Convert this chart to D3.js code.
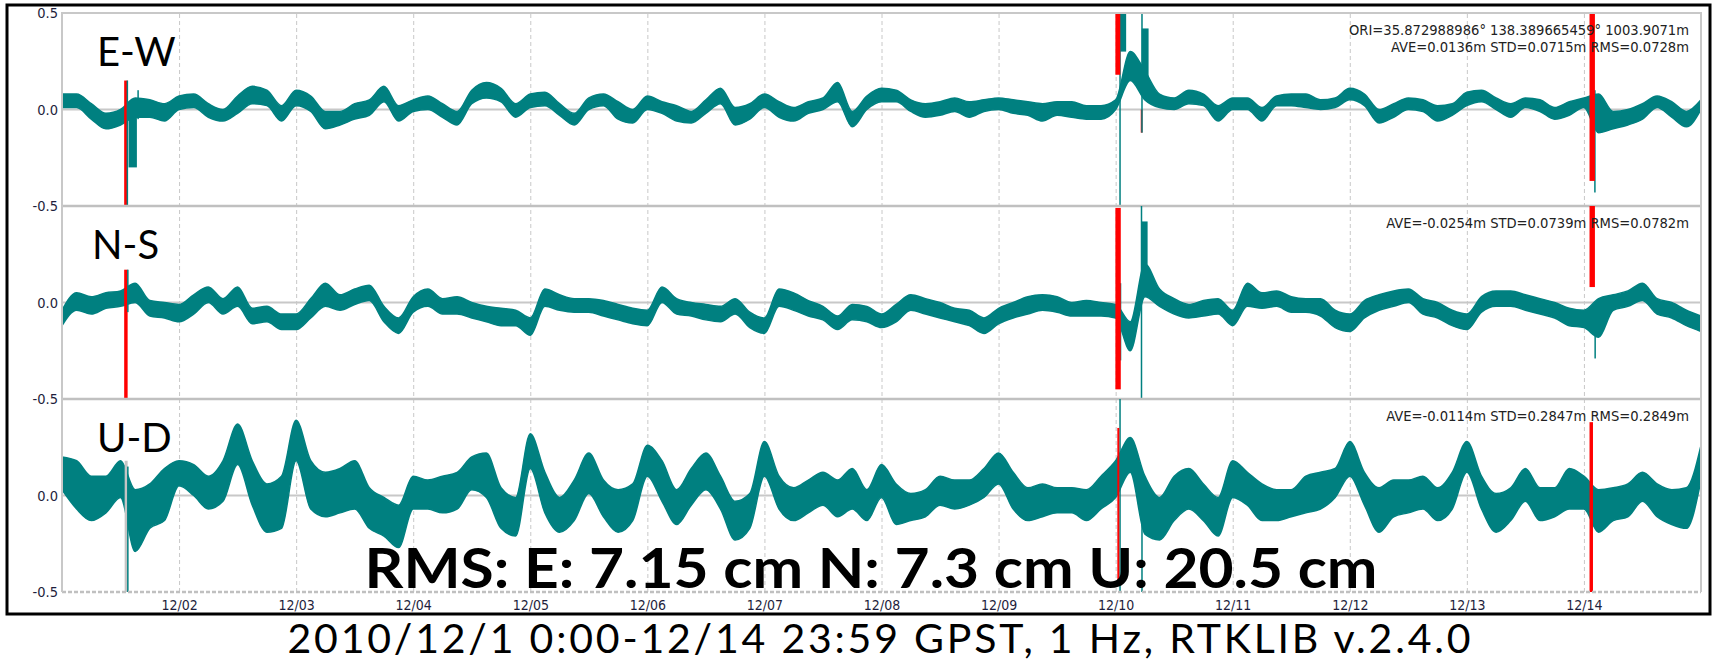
<!DOCTYPE html>
<html>
<head>
<meta charset="utf-8">
<script src="https://cdn.jsdelivr.net/npm/d3@7"></script>
<style>
  body { margin: 0; background: #fff; }
  svg { display: block; }
</style>
</head>
<body>
<svg width="1712" height="663"></svg>
<script>
// sample times: hours since 2010/12/01 00:00 GPST, one envelope value per 3 h bin
const hours = d3.range(0, 337, 3)

// E-W envelope (m), one row per day
const ewHi = [
  0.08, 0.08, 0.03, -0.02, 0.00, 0.06, 0.05, 0.03,
  0.07, 0.08, 0.03, 0.00, 0.07, 0.12, 0.10, 0.02,
  0.10, 0.07, -0.01, -0.01, 0.03, 0.05, 0.12, 0.02,
  0.05, 0.07, 0.03, -0.01, 0.10, 0.14, 0.11, 0.03,
  0.08, 0.09, 0.03, -0.02, 0.06, 0.08, 0.04, 0.00,
  0.07, 0.04, 0.02, -0.01, 0.05, 0.11, 0.01, 0.03,
  0.08, 0.04, 0.01, 0.04, 0.06, 0.14, -0.01, 0.07,
  0.11, 0.10, 0.05, 0.03, 0.04, 0.06, 0.04, 0.05,
  0.06, 0.05, 0.04, 0.03, 0.04, 0.04, 0.02, 0.02,
  0.05, 0.30, 0.20, 0.08, 0.06, 0.10, 0.08, 0.02,
  0.06, 0.06, 0.01, 0.07, 0.08, 0.08, 0.05, 0.06,
  0.11, 0.08, 0.00, 0.03, 0.06, 0.05, 0.02, 0.03,
  0.09, 0.10, 0.06, 0.03, 0.06, 0.05, 0.01, 0.04,
  0.06, 0.08, -0.01, 0.00, 0.03, 0.07, 0.04, -0.01,
  0.05
]
const ewLo = [
  0.01, 0.01, -0.05, -0.10, -0.08, -0.04, -0.04, -0.06,
  0.00, 0.01, -0.04, -0.06, -0.02, 0.03, 0.02, -0.06,
  0.02, -0.01, -0.10, -0.08, -0.05, -0.03, 0.04, -0.06,
  -0.01, 0.00, -0.04, -0.08, 0.03, 0.06, 0.04, -0.04,
  0.01, 0.02, -0.03, -0.08, 0.00, 0.02, -0.05, -0.07,
  0.00, -0.02, -0.06, -0.07, -0.02, 0.03, -0.08, -0.05,
  0.01, -0.04, -0.06, -0.02, 0.00, 0.04, -0.09, 0.00,
  0.04, 0.04, -0.01, -0.04, -0.03, -0.01, -0.04, -0.01,
  0.00, -0.02, -0.03, -0.06, -0.03, -0.04, -0.05, -0.05,
  0.00, 0.15, 0.05, 0.01, 0.00, 0.03, 0.02, -0.06,
  0.00, 0.00, -0.06, 0.02, 0.02, 0.01, 0.00, 0.01,
  0.05, 0.02, -0.07, -0.04, 0.00, -0.01, -0.06, -0.03,
  0.02, 0.04, 0.00, -0.04, 0.01, -0.01, -0.05, -0.03,
  0.01, -0.12, -0.10, -0.08, -0.05, 0.01, -0.04, -0.09,
  0.00
]

// N-S envelope (m)
const nsHi = [
  -0.04, 0.05, 0.03, 0.05, 0.06, 0.10, 0.01, 0.00,
  -0.01, 0.04, 0.08, 0.02, 0.08, -0.03, -0.02, -0.06,
  -0.06, 0.02, 0.10, 0.04, 0.07, 0.09, -0.02, -0.08,
  0.03, 0.07, 0.02, 0.03, 0.00, -0.02, -0.03, -0.04,
  -0.08, 0.07, 0.04, 0.02, 0.02, 0.01, -0.01, -0.03,
  -0.04, 0.08, 0.02, 0.00, -0.01, -0.02, 0.02, -0.05,
  -0.08, 0.07, 0.05, 0.01, -0.02, -0.07, -0.01, -0.02,
  -0.06, -0.01, 0.04, 0.02, 0.00, -0.03, -0.04, -0.08,
  -0.03, 0.00, 0.03, 0.04, 0.03, 0.00, 0.01, 0.00,
  -0.01, -0.10, 0.20, 0.07, 0.02, -0.01, 0.01, 0.02,
  -0.04, 0.10, 0.05, 0.06, 0.03, 0.02, 0.02, -0.04,
  -0.06, 0.01, 0.04, 0.06, 0.07, 0.02, 0.00, -0.04,
  -0.06, 0.03, 0.06, 0.06, 0.04, 0.02, 0.00, -0.03,
  -0.04, 0.02, 0.04, 0.06, 0.10, 0.02, 0.00, -0.04,
  -0.07
]
const nsLo = [
  -0.12, -0.04, -0.06, -0.03, -0.02, 0.00, -0.07, -0.08,
  -0.10, -0.06, 0.00, -0.06, -0.02, -0.11, -0.10, -0.14,
  -0.14, -0.08, -0.02, -0.04, -0.01, 0.01, -0.10, -0.16,
  -0.05, -0.02, -0.06, -0.06, -0.08, -0.10, -0.12, -0.12,
  -0.17, -0.02, -0.04, -0.05, -0.05, -0.07, -0.09, -0.11,
  -0.12, 0.00, -0.06, -0.07, -0.09, -0.10, -0.06, -0.13,
  -0.16, -0.02, -0.04, -0.07, -0.09, -0.14, -0.09, -0.10,
  -0.13, -0.10, -0.04, -0.06, -0.08, -0.10, -0.12, -0.16,
  -0.11, -0.08, -0.06, -0.04, -0.05, -0.07, -0.07, -0.07,
  -0.08, -0.25, 0.03, -0.02, -0.06, -0.08, -0.07, -0.06,
  -0.12, -0.02, -0.03, -0.02, -0.05, -0.05, -0.07, -0.13,
  -0.15, -0.08, -0.04, -0.02, 0.00, -0.06, -0.08, -0.12,
  -0.14, -0.05, -0.02, -0.02, -0.04, -0.06, -0.08, -0.12,
  -0.13, -0.18, -0.04, -0.02, 0.01, -0.06, -0.08, -0.12,
  -0.15
]

// U-D envelope (m)
const udHi = [
  0.20, 0.18, 0.10, 0.10, 0.18, 0.03, 0.06, 0.14,
  0.18, 0.16, 0.10, 0.18, 0.37, 0.18, 0.06, 0.10,
  0.39, 0.18, 0.12, 0.14, 0.18, 0.04, -0.01, -0.05,
  0.10, 0.08, 0.10, 0.12, 0.20, 0.22, 0.04, -0.01,
  0.32, 0.12, -0.01, 0.08, 0.22, 0.08, 0.03, 0.06,
  0.26, 0.18, 0.03, 0.14, 0.22, 0.10, -0.03, 0.01,
  0.28, 0.10, 0.04, 0.08, 0.12, 0.08, 0.14, 0.03,
  0.16, 0.06, 0.01, 0.03, 0.10, 0.08, 0.08, 0.14,
  0.22, 0.12, 0.04, 0.06, 0.04, 0.04, 0.03, 0.10,
  0.18, 0.30, 0.10, -0.01, 0.10, 0.14, 0.06, -0.01,
  0.18, 0.12, 0.06, 0.03, 0.03, 0.10, 0.12, 0.14,
  0.28, 0.12, 0.04, 0.08, 0.08, 0.10, 0.04, 0.12,
  0.28, 0.10, 0.01, 0.04, 0.14, 0.04, 0.04, 0.14,
  0.10, 0.03, 0.04, 0.06, 0.12, 0.06, 0.03, 0.04,
  0.26
]
const udLo = [
  0.03, -0.07, -0.13, -0.09, -0.01, -0.29, -0.17, -0.13,
  0.05, 0.00, -0.07, -0.03, 0.16, -0.05, -0.19, -0.17,
  0.18, -0.07, -0.11, -0.09, -0.07, -0.17, -0.21, -0.27,
  -0.07, -0.07, -0.09, -0.07, 0.03, -0.01, -0.17, -0.21,
  0.14, -0.09, -0.19, -0.13, 0.01, -0.11, -0.19, -0.13,
  0.10, -0.03, -0.15, -0.05, 0.03, -0.07, -0.23, -0.17,
  0.10, -0.07, -0.13, -0.09, -0.05, -0.11, -0.07, -0.13,
  -0.01, -0.15, -0.13, -0.11, -0.05, -0.07, -0.05, -0.01,
  0.06, -0.07, -0.13, -0.11, -0.09, -0.09, -0.13, -0.07,
  -0.01, 0.12, -0.20, -0.23, -0.13, -0.07, -0.13, -0.21,
  -0.01, -0.05, -0.13, -0.13, -0.11, -0.09, -0.07, -0.01,
  0.10, -0.05, -0.19, -0.11, -0.09, -0.07, -0.13, -0.07,
  0.12, -0.07, -0.19, -0.13, -0.03, -0.13, -0.11, -0.07,
  -0.07, -0.19, -0.13, -0.11, -0.03, -0.11, -0.15, -0.17,
  0.08
]

// short jumps and float/no-solution stretches: hours t0-t1, range lo-hi (m), quality
const ewEvents = [
  { t0: 12.9, t1: 13.3, lo: -0.5, hi: 0.15, q: 'float' },
  { t0: 13.4, t1: 13.4, lo: -0.5, hi: 0.15, q: 'fix' },
  { t0: 13.8, t1: 15.2, lo: -0.3, hi: -0.02, q: 'fix' },
  { t0: 15.6, t1: 15.6, lo: -0.05, hi: 0.1, q: 'fix' },
  { t0: 217.0, t1: 218.0, lo: 0.3, hi: 0.5, q: 'fix' },
  { t0: 216.9, t1: 216.9, lo: -0.5, hi: 0.5, q: 'fix' },
  { t0: 216.1, t1: 216.8, lo: 0.18, hi: 0.5, q: 'float' },
  { t0: 221.3, t1: 221.35, lo: -0.12, hi: 0.0, q: 'float' },
  { t0: 221.4, t1: 221.4, lo: -0.12, hi: 0.5, q: 'fix' },
  { t0: 221.5, t1: 222.6, lo: 0.15, hi: 0.42, q: 'fix' },
  { t0: 314.25, t1: 314.25, lo: -0.43, hi: 0.1, q: 'fix' },
  { t0: 313.3, t1: 314.1, lo: -0.37, hi: 0.5, q: 'float' }
]
const nsEvents = [
  { t0: 12.9, t1: 13.3, lo: -0.5, hi: 0.17, q: 'float' },
  { t0: 13.5, t1: 13.5, lo: -0.05, hi: 0.17, q: 'fix' },
  { t0: 217.0, t1: 217.0, lo: -0.3, hi: 0.1, q: 'fix' },
  { t0: 216.1, t1: 216.9, lo: -0.45, hi: 0.49, q: 'float' },
  { t0: 221.3, t1: 221.3, lo: -0.5, hi: 0.5, q: 'fix' },
  { t0: 221.4, t1: 222.4, lo: 0.12, hi: 0.42, q: 'fix' },
  { t0: 314.3, t1: 314.3, lo: -0.29, hi: 0.0, q: 'fix' },
  { t0: 313.3, t1: 314.1, lo: 0.08, hi: 0.5, q: 'float' }
]
const udEvents = [
  { t0: 13.0, t1: 13.3, lo: -0.5, hi: 0.18, q: 'gap' },
  { t0: 13.5, t1: 13.5, lo: -0.5, hi: 0.15, q: 'fix' },
  { t0: 216.9, t1: 216.9, lo: -0.5, hi: 0.5, q: 'fix' },
  { t0: 216.5, t1: 216.6, lo: -0.45, hi: 0.35, q: 'float' },
  { t0: 221.4, t1: 221.4, lo: -0.5, hi: 0.05, q: 'fix' },
  { t0: 313.3, t1: 313.7, lo: -0.5, hi: 0.38, q: 'float' }
]

const panelNames = ['E-W', 'N-S', 'U-D']
const statLines = [
  ['ORI=35.872988986\u00b0 138.389665459\u00b0 1003.9071m', 'AVE=0.0136m STD=0.0715m RMS=0.0728m'],
  ['AVE=-0.0254m STD=0.0739m RMS=0.0782m'],
  ['AVE=-0.0114m STD=0.2847m RMS=0.2849m']
]
const rmsText = 'RMS: E: 7.15 cm N: 7.3 cm U: 20.5 cm'
const caption = '2010/12/1 0:00-12/14 23:59 GPST, 1 Hz, RTKLIB v.2.4.0'

const panels = [
  { hi: ewHi, lo: ewLo, events: ewEvents },
  { hi: nsHi, lo: nsLo, events: nsEvents },
  { hi: udHi, lo: udLo, events: udEvents }
]

// layout
const svg = d3.select('svg')
const plotL = 62, plotR = 1701, plotT = 13, plotB = 592
const panelH = (plotB - plotT) / 3
const start = new Date(2010, 11, 1)
const toDate = (h) => new Date(start.getTime() + h * 3600e3)

const x = d3.scaleTime().domain([start, new Date(2010, 11, 15)]).range([plotL, plotR])
const color = d3.scaleOrdinal().domain(['fix', 'float', 'gap']).range(['#008080', '#ff0000', '#c4c4c4'])
const gridColor = '#c8c8c8'
const tickFont = '"DejaVu Sans Condensed", "DejaVu Sans", sans-serif'

// outer frame
svg.append('rect')
  .attr('x', 7).attr('y', 5).attr('width', 1703).attr('height', 609)
  .attr('fill', 'none').attr('stroke', '#000').attr('stroke-width', 3)

// day grid + date labels
const xAxis = d3.axisBottom(x)
  .tickValues(d3.timeDay.range(new Date(2010, 11, 2), new Date(2010, 11, 15)))
  .tickFormat(d3.timeFormat('%m/%d'))
  .tickSizeInner(-(plotB - plotT))
  .tickSizeOuter(0)
  .tickPadding(8)

const xg = svg.append('g').attr('transform', `translate(0,${plotB})`).call(xAxis)
xg.select('.domain').remove()
xg.selectAll('line').attr('stroke', gridColor).attr('stroke-dasharray', '4,3')
xg.selectAll('text')
  .attr('font-family', tickFont).attr('font-size', 14).attr('fill', '#1e1e3c')

panels.forEach((p, i) => {
  const y0 = plotT + i * panelH
  const y = d3.scaleLinear().domain([-0.5, 0.5]).range([y0 + panelH, y0])
  const g = svg.append('g')

  g.append('clipPath').attr('id', 'clip' + i)
    .append('rect').attr('x', plotL).attr('y', y0).attr('width', plotR - plotL).attr('height', panelH)

  // zero line
  g.append('line')
    .attr('x1', plotL).attr('x2', plotR).attr('y1', y(0)).attr('y2', y(0))
    .attr('stroke', gridColor).attr('stroke-width', 2)

  // y labels
  const yAxis = d3.axisLeft(y)
    .tickValues(i === 0 ? [0.5, 0, -0.5] : [0, -0.5])
    .tickFormat((d) => d.toFixed(1))
    .tickSize(0)
    .tickPadding(4)
  const yg = g.append('g').attr('transform', `translate(${plotL},0)`).call(yAxis)
  yg.select('.domain').remove()
  yg.selectAll('text')
    .attr('font-family', tickFont).attr('font-size', 14.5).attr('fill', '#1e1e3c')

  // noisy position band
  const pts = hours.map((h, k) => ({ t: toDate(h), hi: p.hi[k], lo: p.lo[k] }))
  const area = d3.area()
    .curve(d3.curveMonotoneX)
    .x((d) => x(d.t)).y0((d) => y(d.lo)).y1((d) => y(d.hi))
  const plot = g.append('g').attr('clip-path', `url(#clip${i})`)
  plot.append('path').datum(pts)
    .attr('d', area)
    .attr('fill', color('fix')).attr('stroke', color('fix')).attr('stroke-width', 1.5)
    .attr('stroke-linejoin', 'round')

  plot.selectAll('rect.ev').data(p.events).enter().append('rect')
    .attr('class', 'ev')
    .attr('x', (d) => x(toDate(d.t0)) - 0.75)
    .attr('width', (d) => Math.max(1.5, x(toDate(d.t1)) - x(toDate(d.t0)) + 1.5))
    .attr('y', (d) => y(d.hi))
    .attr('height', (d) => y(d.lo) - y(d.hi))
    .attr('fill', (d) => color(d.q))

  // panel name
  g.append('text')
    .attr('x', i === 1 ? 92 : 97).attr('y', y0 + 53)
    .attr('font-family', 'Lato, "Open Sans", sans-serif').attr('font-size', 40)
    .attr('fill', '#000')
    .text(panelNames[i])

  // statistics
  g.selectAll('text.stat').data(statLines[i]).enter().append('text')
    .attr('class', 'stat')
    .attr('x', 1689).attr('y', (d, k) => y0 + 22 + k * 17)
    .attr('text-anchor', 'end')
    .attr('font-family', tickFont).attr('font-size', 14.6).attr('fill', '#222')
    .text((d) => d)

  // panel separator
  g.append('line')
    .attr('x1', plotL).attr('x2', plotR).attr('y1', y(-0.5)).attr('y2', y(-0.5))
    .attr('stroke', '#c0c0c0').attr('stroke-width', 2.5)
    .attr('stroke-dasharray', i === 2 ? '4,2' : null)
})

// plot frame (left, top, right)
svg.append('path')
  .attr('d', `M${plotL},${plotB}V${plotT}H${plotR}V${plotB}`)
  .attr('fill', 'none').attr('stroke', gridColor).attr('stroke-width', 2)

// annotations
svg.append('text')
  .attr('x', 871).attr('y', 588)
  .attr('text-anchor', 'middle')
  .attr('font-family', 'Lato, "Open Sans", sans-serif').attr('font-weight', 'bold')
  .attr('font-size', 56).attr('fill', '#000')
  .attr('textLength', 1013).attr('lengthAdjust', 'spacingAndGlyphs')
  .text(rmsText)

svg.append('text')
  .attr('x', 879).attr('y', 653)
  .attr('text-anchor', 'middle')
  .attr('font-family', 'Lato, "Open Sans", sans-serif')
  .attr('font-size', 41).attr('fill', '#000')
  .attr('textLength', 1183).attr('lengthAdjust', 'spacing')
  .text(caption)
</script>
</body>
</html>
